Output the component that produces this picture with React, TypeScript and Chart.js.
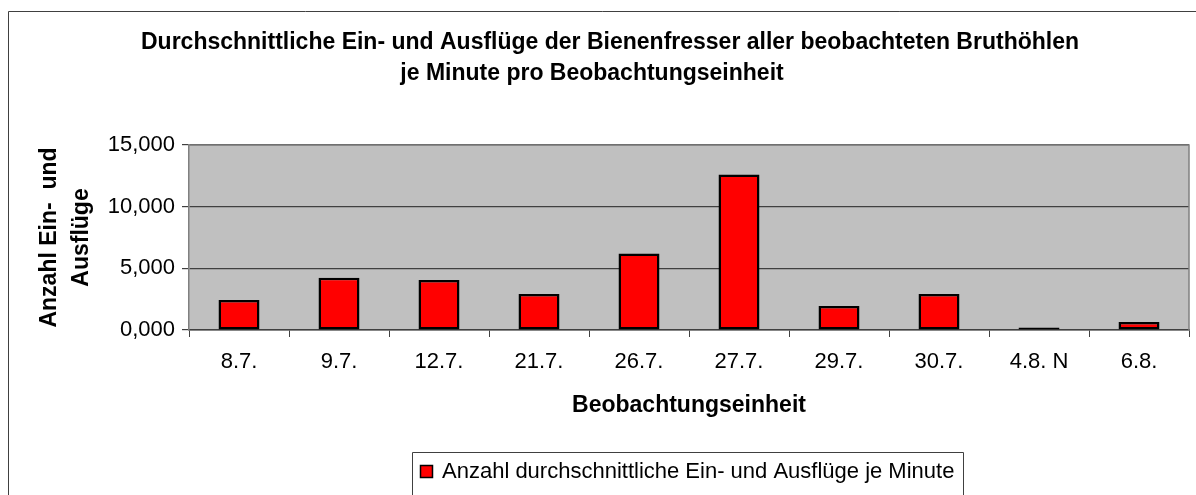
import React, { useEffect, useRef } from "react";
import { Chart, registerables } from "chart.js";

Chart.register(...registerables);

const categories = ["8.7.", "9.7.", "12.7.", "21.7.", "26.7.", "27.7.", "29.7.", "30.7.", "4.8. N", "6.8."];
const values = [2.43, 4.24, 4.05, 2.92, 6.2, 12.6, 1.95, 2.92, 0.2, 0.65];
const seriesLabel = "Anzahl durchschnittliche Ein- und Ausflüge je Minute";
const titleLines = [
  "Durchschnittliche Ein- und Ausflüge der Bienenfresser aller beobachteten Bruthöhlen",
  "je Minute pro Beobachtungseinheit",
];
const yTitleLines = ["Anzahl Ein-  und", "Ausflüge"];
const xTitle = "Beobachtungseinheit";
const yMin = 0;
const yMax = 15;
const yStep = 5;

const FONT = "'Liberation Sans', Arial, sans-serif";
const W = 1196;
const H = 495;

const decorPlugin = {
  id: "decor",
  beforeDraw(chart: any) {
    const { ctx, chartArea } = chart;
    ctx.save();
    ctx.fillStyle = "#ffffff";
    ctx.fillRect(0, 0, W, H);
    ctx.fillStyle = "#C0C0C0";
    ctx.fillRect(chartArea.left, chartArea.top, chartArea.right - chartArea.left, chartArea.bottom - chartArea.top);
    // outer frame
    ctx.strokeStyle = "#404040";
    ctx.lineWidth = 1;
    ctx.beginPath();
    ctx.moveTo(8.5, H + 2);
    ctx.lineTo(8.5, 11.5);
    ctx.lineTo(W + 2, 11.5);
    ctx.stroke();
    ctx.restore();
  },
  afterDatasetsDraw(chart: any) {
    const { ctx, chartArea } = chart;
    ctx.save();
    ctx.strokeStyle = "#808080";
    ctx.lineWidth = 1.5;
    ctx.beginPath();
    ctx.moveTo(chartArea.left, chartArea.top);
    ctx.lineTo(chartArea.right, chartArea.top);
    ctx.lineTo(chartArea.right, chartArea.bottom);
    ctx.stroke();
    ctx.restore();
  },
  afterDraw(chart: any) {
    const { ctx, chartArea } = chart;
    ctx.save();
    ctx.fillStyle = "#000000";
    // title
    ctx.font = `bold 23px ${FONT}`;
    ctx.textAlign = "center";
    ctx.textBaseline = "alphabetic";
    ctx.fillText(titleLines[0], 610, 49);
    ctx.fillText(titleLines[1], 592, 80);
    // x title
    const cx = (chartArea.left + chartArea.right) / 2;
    ctx.font = `bold 23px ${FONT}`;
    ctx.fillText(xTitle, cx, 412);
    // y title
    const cy = (chartArea.top + chartArea.bottom) / 2;
    ctx.save();
    ctx.translate(0, cy);
    ctx.rotate(-Math.PI / 2);
    ctx.textBaseline = "middle";
    ctx.fillText(yTitleLines[0], 0, 50);
    ctx.fillText(yTitleLines[1], 0, 82);
    ctx.restore();
    // legend
    ctx.strokeStyle = "#404040";
    ctx.lineWidth = 1;
    ctx.fillStyle = "#ffffff";
    ctx.beginPath();
    ctx.rect(412.5, 452.5, 551, 60);
    ctx.fill();
    ctx.stroke();
    ctx.fillStyle = "#FF0000";
    ctx.fillRect(420.5, 465.5, 12, 12);
    ctx.strokeStyle = "#000000";
    ctx.lineWidth = 1.5;
    ctx.strokeRect(420.5, 465.5, 12, 12);
    ctx.fillStyle = "#000000";
    ctx.font = `22px ${FONT}`;
    ctx.textAlign = "left";
    ctx.textBaseline = "alphabetic";
    ctx.fillText(seriesLabel, 442, 478);
    ctx.restore();
  },
};

export default function App() {
  const ref = useRef<HTMLCanvasElement | null>(null);
  useEffect(() => {
    if (!ref.current) return;
    const chart = new Chart(ref.current, {
      type: "bar",
      data: {
        labels: categories,
        datasets: [
          {
            label: seriesLabel,
            data: values,
            backgroundColor: "#FF0000",
            borderColor: "#000000",
            borderWidth: 2.5,
            borderSkipped: false,
            barPercentage: 0.41,
            categoryPercentage: 1,
          },
        ],
      },
      options: {
        animation: false,
        responsive: false,
        maintainAspectRatio: false,
        devicePixelRatio: 1,
        layout: { padding: { left: 0, right: W - 1189, top: 145, bottom: 0 } },
        plugins: {
          legend: { display: false },
          title: { display: false },
          tooltip: { enabled: false },
        },
        scales: {
          x: {
            afterFit(scale: any) {
              scale.height = H - 330;
            },
            grid: {
              offset: true,
              drawOnChartArea: false,
              drawTicks: true,
              tickLength: 7,
              color: "#404040",
            },
            border: { display: true, color: "#404040", width: 1.5 },
            ticks: {
              color: "#000000",
              font: { family: FONT, size: 22 },
              padding: 12,
              maxRotation: 0,
              autoSkip: false,
            },
          },
          y: {
            min: yMin,
            max: yMax,
            afterFit(scale: any) {
              scale.width = 189;
            },
            grid: {
              color: "#404040",
              lineWidth: 1.2,
              tickLength: 7,
              drawTicks: true,
            },
            border: { display: true, color: "#808080", width: 1.5 },
            ticks: {
              stepSize: yStep,
              color: "#000000",
              font: { family: FONT, size: 22 },
              padding: 7,
              callback: (v: any) => Number(v).toFixed(3).replace(".", ","),
            },
          },
        },
      },
      plugins: [decorPlugin],
    });
    return () => chart.destroy();
  }, []);
  return (
    <div style={{ position: "absolute", left: 0, top: 0, width: W, height: H }}>
      <canvas ref={ref} width={W} height={H} style={{ width: W, height: H, display: "block" }} />
    </div>
  );
}
